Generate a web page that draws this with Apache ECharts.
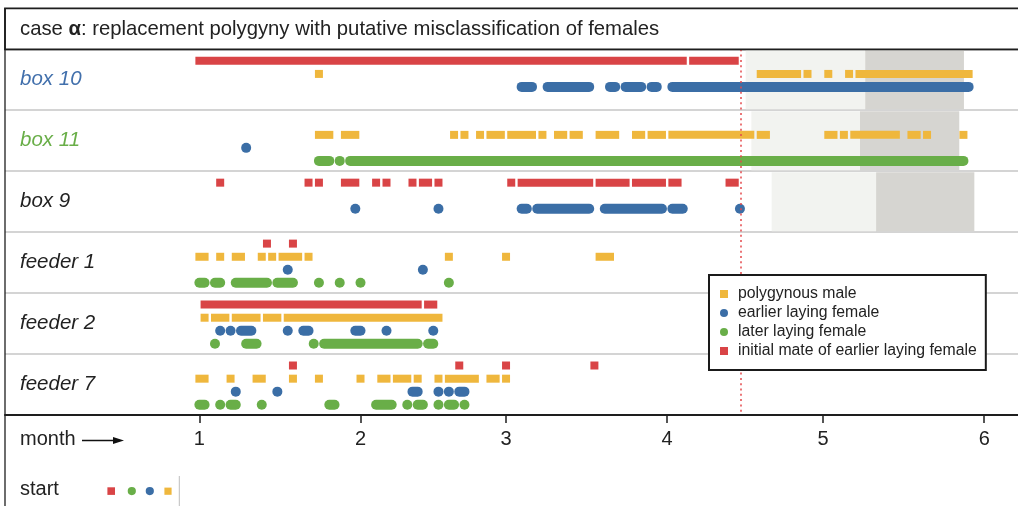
<!DOCTYPE html>
<html>
<head>
<meta charset="utf-8">
<script src="https://cdn.jsdelivr.net/npm/echarts@6/dist/echarts.min.js"></script>
<style>
  html, body { margin: 0; padding: 0; background: #fff; }
  #chart { width: 1018px; height: 506px; }
</style>
</head>
<body>
<div id="chart"></div>
<script>
// Nest sites / feeders, top to bottom
const ROWS = ['box 10', 'box 11', 'box 9', 'feeder 1', 'feeder 2', 'feeder 7'];
const ROW_COLORS = ['#4270ac', '#69ae48', '#222', '#222', '#222', '#222'];

// x axis: day of season (day 0 = first of month 1); ticks at the start of each month
const MONTH_STARTS = [0, 31, 59, 90, 120, 151];
const MONTH_LABELS = ['1', '2', '3', '4', '5', '6'];

// Sightings as runs of consecutive days: [row, first day, last day]
const polygynousMale = [
  [0, 23, 23], [0, 108, 115], [0, 117, 117], [0, 121, 121], [0, 125, 125], [0, 127, 148],
  [1, 23, 25], [1, 28, 30], [1, 49, 49], [1, 51, 51], [1, 54, 54], [1, 56, 58], [1, 60, 64],
  [1, 66, 66], [1, 69, 70], [1, 72, 73], [1, 77, 80], [1, 84, 85], [1, 87, 89], [1, 91, 106],
  [1, 108, 109], [1, 121, 122], [1, 124, 124], [1, 126, 134], [1, 137, 138], [1, 140, 140], [1, 147, 147],
  [3, 0, 1], [3, 4, 4], [3, 7, 8], [3, 12, 12], [3, 14, 14], [3, 16, 19], [3, 21, 21],
  [3, 48, 48], [3, 59, 59], [3, 77, 79],
  [4, 1, 1], [4, 3, 5], [4, 7, 11], [4, 13, 15], [4, 17, 46],
  [5, 0, 1], [5, 6, 6], [5, 11, 12], [5, 18, 18], [5, 23, 23], [5, 31, 31], [5, 35, 36],
  [5, 38, 40], [5, 42, 42], [5, 46, 46], [5, 48, 53], [5, 56, 57], [5, 59, 59]
];
const earlierFemale = [
  [0, 62, 64], [0, 67, 75], [0, 79, 80], [0, 82, 85], [0, 87, 88], [0, 91, 148],
  [1, 9, 9],
  [2, 30, 30], [2, 46, 46], [2, 62, 63], [2, 65, 75], [2, 78, 89], [2, 91, 93], [2, 104, 104],
  [3, 17, 17], [3, 43, 43],
  [4, 4, 4], [4, 6, 6], [4, 8, 10], [4, 17, 17], [4, 20, 21], [4, 30, 31], [4, 36, 36], [4, 45, 45],
  [5, 7, 7], [5, 15, 15], [5, 41, 42], [5, 46, 46], [5, 48, 48], [5, 50, 51]
];
const laterFemale = [
  [1, 23, 25], [1, 27, 27], [1, 29, 147],
  [3, 0, 1], [3, 3, 4], [3, 7, 13], [3, 15, 18], [3, 23, 23], [3, 27, 27], [3, 31, 31], [3, 48, 48],
  [4, 3, 3], [4, 9, 11], [4, 22, 22], [4, 24, 42], [4, 44, 45],
  [5, 0, 1], [5, 4, 4], [5, 6, 7], [5, 12, 12], [5, 25, 26], [5, 34, 37], [5, 40, 40],
  [5, 42, 43], [5, 46, 46], [5, 48, 49], [5, 51, 51]
];
const initialMate = [
  [0, 0, 93], [0, 95, 103],
  [2, 4, 4], [2, 21, 21], [2, 23, 23], [2, 28, 30], [2, 34, 34], [2, 36, 36], [2, 41, 41],
  [2, 43, 44], [2, 46, 46], [2, 60, 60], [2, 62, 75], [2, 77, 82], [2, 84, 89], [2, 91, 92], [2, 102, 103],
  [3, 13, 13], [3, 18, 18],
  [4, 1, 42], [4, 44, 45],
  [5, 18, 18], [5, 50, 50], [5, 59, 59], [5, 76, 76]
];

// Late-season phases per nest box: [row, phase 1 start, phase 2 start, end]
const phases = [
  [0, 105.1, 128.1, 147.1],
  [1, 106.2, 127.1, 146.2],
  [2, 110.1, 130.2, 149.1]
];
const cutoffDay = 104.1;

const FONT = '"Liberation Sans", Arial, Helvetica, sans-serif';
const C = { yellow: '#efb73d', blue: '#3b6ea6', green: '#69ae48', red: '#d94446' };
// vertical lane of each kind of bird inside a row
const LANE = { red: 0.188, yellow: 0.404, blue: 0.617, green: 0.831 };

function runRenderer(lane, shape, color) {
  return function (params, api) {
    const row = api.value(0);
    const a = api.coord([api.value(1), row + lane]);
    const b = api.coord([api.value(2), row + lane]);
    const s = shape === 'square' ? 8 : 10;
    return {
      type: 'rect',
      shape: { x: a[0] - s / 2, y: a[1] - s / 2, width: b[0] - a[0] + s, height: s, r: shape === 'square' ? 0 : s / 2 },
      style: { fill: color }
    };
  };
}

function runSeries(name, data, lane, shape, color) {
  return {
    type: 'custom', name: name, data: data,
    encode: { x: [1, 2], y: 0 },
    renderItem: runRenderer(lane, shape, color),
    itemStyle: { color: color },
    z: 3, silent: true, animation: false
  };
}

const chart = echarts.init(document.getElementById('chart'), null, { renderer: 'canvas' });

chart.setOption({
  animation: false,
  backgroundColor: '#fff',
  grid: { left: 5, right: 0, top: 49.3, bottom: 91 },
  xAxis: {
    type: 'value', min: -37.4, max: 157.5,
    splitLine: { show: false },
    axisLine: { show: true, onZero: false, lineStyle: { color: '#1e1e1e', width: 2 } },
    axisTick: { show: true, customValues: MONTH_STARTS, length: 8, lineStyle: { color: '#1e1e1e', width: 1.5 } },
    axisLabel: {
      customValues: MONTH_STARTS, margin: 14,
      formatter: v => MONTH_LABELS[MONTH_STARTS.indexOf(Math.round(v))],
      fontSize: 20, color: '#222', fontFamily: FONT
    }
  },
  yAxis: {
    type: 'value', inverse: true, min: 0, max: 6, interval: 1,
    axisLine: { show: false, onZero: false }, axisTick: { show: false },
    splitLine: { show: true, lineStyle: { color: '#c6c6c6', width: 1.5 } },
    axisLabel: {
      inside: true, margin: 15,
      customValues: [0.5, 1.5, 2.5, 3.5, 4.5, 5.5],
      formatter: v => ROWS[Math.floor(v)],
      color: v => ROW_COLORS[Math.floor(parseFloat(v))],
      fontSize: 20.5, fontStyle: 'italic', fontFamily: FONT, verticalAlign: 'middle',
      padding: [3, 0, 0, 0]
    }
  },
  legend: {
    orient: 'vertical', left: 709, top: 275,
    padding: [11, 9, 11, 11], itemGap: 3, itemWidth: 8, itemHeight: 8,
    backgroundColor: '#fff', borderColor: '#1a1a1a', borderWidth: 2,
    selectedMode: false, z: 20,
    textStyle: { fontSize: 15.8, color: '#222', fontFamily: FONT, lineHeight: 16, padding: [0, 0, 0, 5] },
    data: [
      { name: 'polygynous male', icon: 'rect' },
      { name: 'earlier laying female', icon: 'circle' },
      { name: 'later laying female', icon: 'circle' },
      { name: 'initial mate of earlier laying female', icon: 'rect' }
    ]
  },
  series: [
    {
      type: 'custom', name: 'phases', data: phases,
      encode: { x: [1, 2, 3], y: 0 }, z: 1, silent: true,
      renderItem: function (params, api) {
        const row = api.value(0);
        const p1 = api.coord([api.value(1), row]);
        const p2 = api.coord([api.value(2), row + 1]);
        const p3 = api.coord([api.value(3), row + 1]);
        const top = p1[1] + 1, h = p2[1] - p1[1] - 2;
        return {
          type: 'group', children: [
            { type: 'rect', shape: { x: p1[0], y: top, width: p2[0] - p1[0], height: h }, style: { fill: '#f2f3f0' } },
            { type: 'rect', shape: { x: p2[0], y: top, width: p3[0] - p2[0], height: h }, style: { fill: '#d6d5d1' } }
          ]
        };
      },
      markLine: {
        silent: true, symbol: 'none', label: { show: false },
        lineStyle: { color: '#e4484b', width: 1.5, type: [2, 3.3] },
        data: [{ xAxis: cutoffDay }]
      }
    },
    runSeries('polygynous male', polygynousMale, LANE.yellow, 'square', C.yellow),
    runSeries('earlier laying female', earlierFemale, LANE.blue, 'circle', C.blue),
    runSeries('later laying female', laterFemale, LANE.green, 'circle', C.green),
    runSeries('initial mate of earlier laying female', initialMate, LANE.red, 'square', C.red)
  ],
  graphic: [
    { type: 'rect', z: 100, shape: { x: 5, y: 8.3, width: 1100, height: 41 },
      style: { fill: 'none', stroke: '#1e1e1e', lineWidth: 1.8 } },
    { type: 'line', z: 100, shape: { x1: 5, y1: 8, x2: 5, y2: 520 },
      style: { stroke: '#1e1e1e', lineWidth: 1.3 } },
    { type: 'text', z: 100, x: 20, y: 29.5,
      style: {
        text: '{n|case }{b|α}{n|: replacement polygyny with putative misclassification of females}',
        verticalAlign: 'middle',
        rich: {
          n: { fontSize: 20.3, fontFamily: FONT, fill: '#222' },
          b: { fontSize: 20.3, fontFamily: FONT, fontWeight: 'bold', fill: '#222' }
        }
      } },
    { type: 'text', z: 100, x: 20, y: 439,
      style: { text: 'month', fontSize: 20, fontFamily: FONT, fill: '#222', verticalAlign: 'middle' } },
    { type: 'line', z: 100, shape: { x1: 82, y1: 440.5, x2: 116, y2: 440.5 },
      style: { stroke: '#111', lineWidth: 1.4 } },
    { type: 'polygon', z: 100, shape: { points: [[113, 437], [124, 440.5], [113, 444]] },
      style: { fill: '#111' } },
    { type: 'text', z: 100, x: 20, y: 489.5,
      style: { text: 'start', fontSize: 20, fontFamily: FONT, fill: '#222', verticalAlign: 'middle' } },
    { type: 'rect', z: 100, shape: { x: 107.4, y: 487.3, width: 7.6, height: 7.6 }, style: { fill: C.red } },
    { type: 'circle', z: 100, shape: { cx: 131.8, cy: 491.1, r: 4.1 }, style: { fill: C.green } },
    { type: 'circle', z: 100, shape: { cx: 149.8, cy: 491.1, r: 4.1 }, style: { fill: C.blue } },
    { type: 'rect', z: 100, shape: { x: 164.4, y: 487.6, width: 7.2, height: 7.2 }, style: { fill: C.yellow } },
    { type: 'line', z: 100, shape: { x1: 179.3, y1: 476, x2: 179.3, y2: 506 },
      style: { stroke: '#bdbdbd', lineWidth: 1 } }
  ]
});
</script>
</body>
</html>
